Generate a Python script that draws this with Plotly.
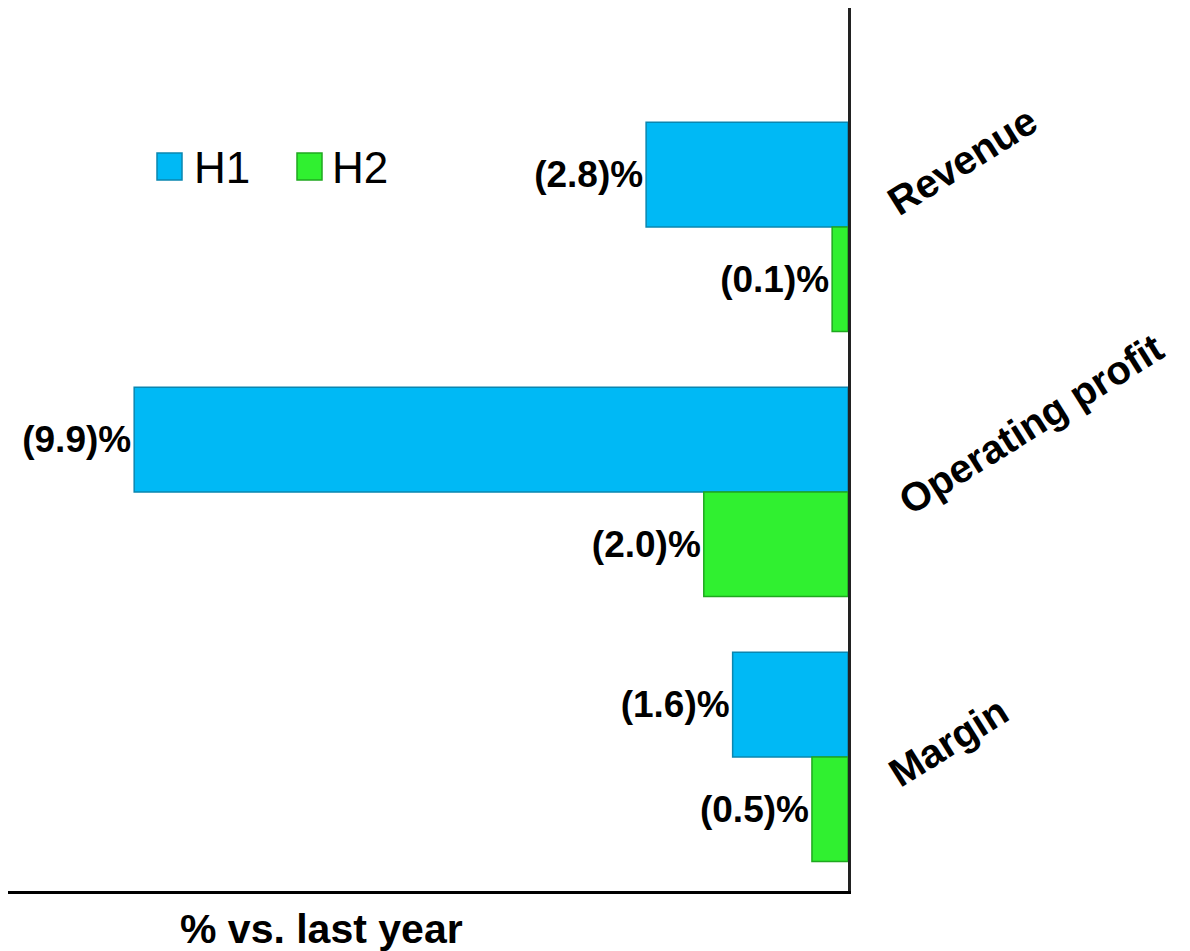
import plotly.graph_objects as go

categories = ["Revenue", "Operating profit", "Margin"]
h1_values = [-2.8, -9.9, -1.6]
h2_values = [-0.22, -2.0, -0.5]
h1_labels = ["(2.8)%", "(9.9)%", "(1.6)%"]
h2_labels = ["(0.1)%", "(2.0)%", "(0.5)%"]
series_names = ["H1", "H2"]

BLUE = "#00B9F5"
BLUE_EDGE = "#0A86B0"
GREEN = "#30F030"
GREEN_EDGE = "#1FA81F"
FONT = "Liberation Sans, Arial, sans-serif"

# The page has an 8px body margin; work in page pixels and convert.
OFF = 8
W, H = 1190 - OFF, 951 - OFF
ML, MR, MT, MB = 0, 1190 - 848, 0, 60
PW = W - ML - MR
PH = H - MT - MB


def px_x(x):
    return (x - OFF - ML) / PW


def px_y(y):
    return (H - MB - (y - OFF)) / PH


fig = go.Figure()
fig.add_trace(go.Bar(
    y=categories, x=h1_values, name=series_names[0], orientation="h",
    marker=dict(color=BLUE, line=dict(color=BLUE_EDGE, width=1.5)),
    text=h1_labels, textposition="outside", cliponaxis=False,
    textfont=dict(family=FONT, size=37, color="black", weight="bold"),
    showlegend=False,
))
fig.add_trace(go.Bar(
    y=categories, x=h2_values, name=series_names[1], orientation="h",
    marker=dict(color=GREEN, line=dict(color=GREEN_EDGE, width=1.5)),
    text=h2_labels, textposition="outside", cliponaxis=False,
    textfont=dict(family=FONT, size=37, color="black", weight="bold"),
    showlegend=False,
))

fig.update_layout(
    width=W, height=H,
    margin=dict(l=ML, r=MR, t=MT, b=MB),
    paper_bgcolor="white", plot_bgcolor="white",
    barmode="group", bargap=0.21, bargroupgap=0,
    xaxis=dict(range=[-11.65, 0], showgrid=False, zeroline=False,
               showticklabels=False, ticks="", showline=True,
               linecolor="black", linewidth=2.5),
    yaxis=dict(range=[2.506, -0.826], showgrid=False, zeroline=False,
               showticklabels=False, ticks="", side="right",
               showline=True, linecolor="#222222", linewidth=2.5),
    font=dict(family=FONT),
)

# Category labels (rotated)
cat_pos = [(962, 161), (1031, 424), (948, 742)]
for name, (cx, cy) in zip(categories, cat_pos):
    fig.add_annotation(
        text=f"<b>{name}</b>", xref="paper", yref="paper",
        x=px_x(cx), y=px_y(cy), xanchor="center", yanchor="middle",
        textangle=-32, showarrow=False,
        font=dict(family=FONT, size=40, color="black"),
    )

# Axis title
fig.add_annotation(
    text="<b>% vs. last year</b>", xref="paper", yref="paper",
    x=px_x(321), y=px_y(929), xanchor="center", yanchor="middle",
    showarrow=False, font=dict(family=FONT, size=41, color="black"),
)

# Legend (drawn manually so the swatches match the reference size)
legend_items = [(series_names[0], BLUE, BLUE_EDGE, 157, 195),
                (series_names[1], GREEN, GREEN_EDGE, 297, 333)]
for name, col, edge, sx, tx in legend_items:
    fig.add_shape(type="rect", xref="paper", yref="paper",
                  x0=px_x(sx), x1=px_x(sx + 25), y0=px_y(180), y1=px_y(153),
                  fillcolor=col, line=dict(color=edge, width=1.5))
    fig.add_annotation(
        text=name, xref="paper", yref="paper",
        x=px_x(tx - 3), y=px_y(167), xanchor="left", yanchor="middle",
        showarrow=False, font=dict(family=FONT, size=44, color="black"),
    )

fig.write_html("out.html")
